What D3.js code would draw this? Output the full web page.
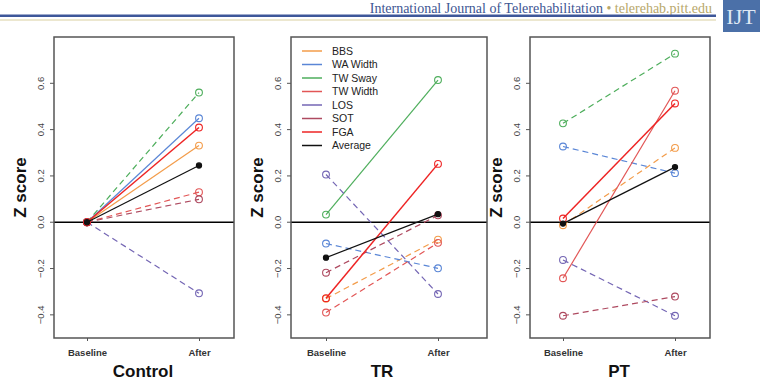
<!DOCTYPE html>
<html>
<head>
<meta charset="utf-8">
<script src="https://cdn.jsdelivr.net/npm/d3@7"></script>
<style>
  body { margin: 0; background: #fff; }
  svg { display: block; }
</style>
</head>
<body>
<div id="chart"></div>
<script>
const groups = ["Control", "TR", "PT"];
const timepoints = ["Baseline", "After"];
const measures = ["BBS", "WA Width", "TW Sway", "TW Width", "LOS", "SOT", "FGA", "Average"];
const yTicks = [-0.4, -0.2, 0.0, 0.2, 0.4, 0.6];

// z scores per group, in measure order
const controlBaseline = [0, 0, 0, 0, 0, 0, 0, 0];
const controlAfter = [0.331, 0.449, 0.56, 0.13, -0.307, 0.099, 0.409, 0.245];
const trBaseline = [-0.33, -0.092, 0.033, -0.39, 0.206, -0.218, -0.328, -0.153];
const trAfter = [-0.075, -0.199, 0.614, -0.089, -0.31, 0.03, 0.252, 0.035];
const ptBaseline = [-0.013, 0.327, 0.427, -0.242, -0.163, -0.404, 0.016, -0.006];
const ptAfter = [0.321, 0.212, 0.728, 0.568, -0.404, -0.321, 0.513, 0.238];

// 1 = dashed line (change not significant)
const controlDashed = [0, 0, 1, 1, 1, 1, 0, 0];
const trDashed = [1, 1, 0, 1, 1, 1, 0, 0];
const ptDashed = [1, 1, 1, 0, 1, 1, 0, 0];

const colors = {
    "BBS": "#f39c4a",
    "WA Width": "#5a86d6",
    "TW Sway": "#4eae5c",
    "TW Width": "#e25656",
    "LOS": "#7466b4",
    "SOT": "#ae4a60",
    "FGA": "#ee2424",
    "Average": "#111"
};

const panelData = [
    { base: controlBaseline, after: controlAfter, dashed: controlDashed },
    { base: trBaseline, after: trAfter, dashed: trDashed },
    { base: ptBaseline, after: ptAfter, dashed: ptDashed }
];

const width = 760, height = 383;
const plotTop = 37, plotBottom = 338;
const layout = [
    { left: 54, right: 234, x0: 87 },
    { left: 291, right: 487, x0: 326 },
    { left: 530, right: 710, x0: 563 }
];

const svg = d3.select("#chart").append("svg")
    .attr("width", width)
    .attr("height", height)
    .style("font-family", "'Liberation Sans', Arial, sans-serif");

// journal header
svg.append("text")
    .attr("x", 712)
    .attr("y", 12.6)
    .attr("text-anchor", "end")
    .style("font-family", "'Liberation Serif', 'Times New Roman', serif")
    .style("font-size", "14px")
    .call(t => {
        t.append("tspan").attr("fill", "#3d5592").text("International Journal of Telerehabilitation ");
        t.append("tspan").attr("fill", "#b8a86a").text("\u2022 telerehab.pitt.edu");
    });
svg.append("rect").attr("x", 0).attr("y", 14.5).attr("width", 716).attr("height", 2.5).attr("fill", "#3e5799");
svg.append("rect").attr("x", 0).attr("y", 19.5).attr("width", 716).attr("height", 1).attr("fill", "#d9d0a0");
svg.append("rect").attr("x", 723).attr("y", 0).attr("width", 37).attr("height", 32).attr("fill", "#4b70a8");
svg.append("text")
    .attr("x", 741)
    .attr("y", 24)
    .attr("text-anchor", "middle")
    .attr("fill", "#dfe8f4")
    .style("font-family", "'Liberation Serif', serif")
    .style("font-size", "22px")
    .text("IJT");

const y = d3.scaleLinear().domain([-0.5, 0.8]).range([plotBottom, plotTop]);

groups.forEach((group, p) => {
    const L = layout[p];
    const d = panelData[p];
    const x = d3.scalePoint().domain(timepoints).range([L.x0, L.x0 + 112]);
    const g = svg.append("g");

    // y axis
    const yAxis = g.append("g")
        .attr("transform", `translate(${L.left},0)`)
        .call(d3.axisLeft(y).tickValues(yTicks).tickSize(4));
    yAxis.select(".domain").remove();
    yAxis.selectAll("line").attr("stroke", "#555");
    yAxis.selectAll(".tick").attr("transform", v => `translate(0,${y(v)})`);
    yAxis.selectAll("text")
        .attr("transform", "rotate(-90)")
        .attr("x", 0)
        .attr("y", -10)
        .attr("dy", 0)
        .attr("text-anchor", "middle")
        .attr("fill", "#444")
        .style("font-size", "9.5px")
        .text(v => d3.format(".1f")(v).replace("-", "\u2212"));

    // x axis
    const xAxis = g.append("g")
        .attr("transform", `translate(0,${plotBottom})`)
        .call(d3.axisBottom(x).tickSize(3).tickPadding(8));
    xAxis.select(".domain").remove();
    xAxis.selectAll("line").attr("stroke", "#555");
    xAxis.selectAll("text")
        .attr("fill", "#333")
        .style("font-size", "9.5px")
        .style("font-weight", "bold");

    // group title
    g.append("text")
        .attr("x", (x("Baseline") + x("After")) / 2)
        .attr("y", 377)
        .attr("text-anchor", "middle")
        .style("font-size", "17px")
        .style("font-weight", "bold")
        .attr("fill", "#111")
        .text(group);

    g.append("text")
        .attr("transform", `translate(${L.left - 28},${(plotTop + plotBottom) / 2}) rotate(-90)`)
        .attr("text-anchor", "middle")
        .style("font-size", "17px")
        .style("font-weight", "bold")
        .attr("fill", "#111")
        .text("Z score");

    // zero reference line
    g.append("line")
        .attr("x1", L.left).attr("x2", L.right)
        .attr("y1", y(0)).attr("y2", y(0))
        .attr("stroke", "#000")
        .attr("stroke-width", 1.5);

    measures.forEach((m, i) => {
        const pts = [
            { t: "Baseline", v: d.base[i] },
            { t: "After", v: d.after[i] }
        ];
        g.append("line")
            .attr("x1", x(pts[0].t)).attr("y1", y(pts[0].v))
            .attr("x2", x(pts[1].t)).attr("y2", y(pts[1].v))
            .attr("stroke", colors[m])
            .attr("stroke-width", m === "FGA" ? 1.5 : 1.2)
            .attr("stroke-dasharray", d.dashed[i] ? "6,4" : null);

        g.selectAll(null)
            .data(pts)
            .enter()
            .append("circle")
            .attr("cx", q => x(q.t))
            .attr("cy", q => y(q.v))
            .attr("r", m === "Average" ? 2.6 : 3.4)
            .attr("fill", m === "Average" ? colors[m] : "none")
            .attr("stroke", colors[m])
            .attr("stroke-width", 1.1);
    });

    // panel frame
    g.append("rect")
        .attr("x", L.left).attr("y", plotTop)
        .attr("width", L.right - L.left)
        .attr("height", plotBottom - plotTop)
        .attr("fill", "none")
        .attr("stroke", "#555")
        .attr("stroke-width", 1.5);
});

// legend inside the TR panel
const legend = svg.append("g").attr("transform", "translate(302, 51)");
const items = legend.selectAll("g")
    .data(measures)
    .enter()
    .append("g")
    .attr("transform", (m, i) => `translate(0, ${i * 13.5})`);
items.append("line")
    .attr("x1", 0).attr("x2", 20)
    .attr("stroke", m => colors[m])
    .attr("stroke-width", 1.5);
items.append("text")
    .attr("x", 30)
    .attr("dy", "0.35em")
    .style("font-size", "10.5px")
    .attr("fill", "#222")
    .text(m => m);
</script>
</body>
</html>
